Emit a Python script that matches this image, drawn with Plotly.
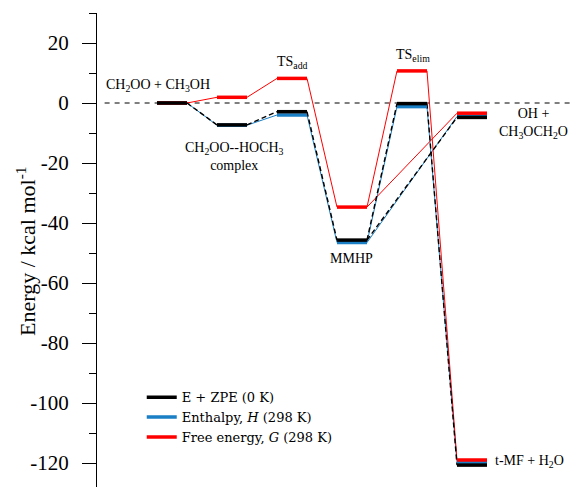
import plotly.graph_objects as go

# Stage data (kcal/mol)
stages = ["CH2OO + CH3OH", "CH2OO--HOCH3 complex", "TSadd", "MMHP", "TSelim", "OH + CH3OCH2O", "t-MF + H2O"]
stage_pos = [0, 1, 2, 3, 4, 5, 5]
E_zpe = [0.0, -7.3, -2.9, -45.7, -0.2, -4.8, -120.7]
H_298 = [0.0, -7.4, -4.0, -46.5, -1.2, -4.5, -119.8]
G_298 = [0.0, 1.9, 8.2, -34.7, 10.7, -3.4, -119.0]
connections = [(0, 1), (1, 2), (2, 3), (3, 4), (4, 6), (3, 5)]

tick_vals = [20, 0, -20, -40, -60, -80, -100, -120]
tick_text = ["20", "0", "-20", "-40", "-60", "-80", "-100", "-120"]

labels = ["CH<sub>2</sub>OO + CH<sub>3</sub>OH", "TS<sub>add</sub>",
          "CH<sub>2</sub>OO--HOCH<sub>3</sub><br>complex", "MMHP",
          "TS<sub>elim</sub>", "OH +<br>CH<sub>3</sub>OCH<sub>2</sub>O", "t-MF + H<sub>2</sub>O"]
label_x = [0.02, 4.5, 2.57, 6.5, 8.53, 12.55, 11.2]
label_y = [5.9, 13.6, -17.7, -51.7, 15.8, -6.8, -119.5]
label_anchor = ["center", "center", "center", "center", "center", "center", "left"]

FONT = "Liberation Serif"
LEGFONT = "DejaVu Serif"
series = [
    ("Enthalpy, <i>H</i> (298 K)", H_298, "#1a7fc4"),
    ("Free energy, <i>G</i> (298 K)", G_298, "#ff0000"),
    ("E + ZPE (0 K)", E_zpe, "#000000"),
]

fig = go.Figure()

# connectors
for name, vals, col in series:
    xs, ys = [], []
    for a, b in connections:
        xs += [2 * stage_pos[a] + 1, 2 * stage_pos[b], None]
        ys += [vals[a], vals[b], None]
    if col == "#000000":
        fig.add_trace(go.Scatter(x=xs, y=ys, mode="lines", showlegend=False,
                                 line=dict(color=col, width=1.4, dash="5px,3px"), hoverinfo="skip"))
    else:
        fig.add_trace(go.Scatter(x=xs, y=ys, mode="lines", showlegend=False,
                                 line=dict(color=col, width=1), hoverinfo="skip"))

legend_order = {"#000000": 1, "#1a7fc4": 2, "#ff0000": 3}
for name, vals, col in series:
    xs, ys = [], []
    for p, v in zip(stage_pos, vals):
        xs += [2 * p, 2 * p + 1, None]
        ys += [v, v, None]
    fig.add_trace(go.Scatter(x=xs, y=ys, mode="lines", name=name,
                             legendrank=legend_order[col],
                             line=dict(color=col, width=3.5)))

for t, x, y, a in zip(labels, label_x, label_y, label_anchor):
    fig.add_annotation(x=x, y=y, text=t, showarrow=False, xanchor=a, yanchor="middle",
                       font=dict(family=FONT, size=14, color="black"))

# y-axis title
fig.add_annotation(xref="paper", yref="paper", x=-0.149, y=0.496, textangle=-90,
                   text="Energy / kcal mol<sup>-1</sup>", showarrow=False,
                   xanchor="center", yanchor="middle",
                   font=dict(family=FONT, size=22, color="black"))

fig.add_shape(type="line", xref="paper", x0=0.016, x1=1, yref="y", y0=0, y1=0,
              line=dict(color="black", width=1.1, dash="5px,5px"), layer="below")

fig.update_layout(
    width=573, height=487,
    margin=dict(l=97, r=0, t=13, b=0, autoexpand=False),
    paper_bgcolor="white", plot_bgcolor="white",
    font=dict(family=FONT, color="black"),
    xaxis=dict(range=[-2, 13.867], visible=False, fixedrange=True),
    yaxis=dict(range=[-128, 30], tickmode="array", tickvals=tick_vals, ticktext=tick_text,
               ticks="outside", ticklen=14,
               tickcolor="black", tickwidth=1, showline=True, linecolor="black", linewidth=1,
               showgrid=False, zeroline=False, ticklabelstandoff=9,
               tickfont=dict(family=FONT, size=21, color="black"),
               minor=dict(dtick=10, tick0=0, ticks="outside", ticklen=7, tickcolor="black", showgrid=False)),
    legend=dict(x=0.094, y=0.221, xanchor="left", yanchor="top", bgcolor="rgba(0,0,0,0)",
                font=dict(family=LEGFONT, size=13, color="black"), tracegroupgap=0,
                itemwidth=30),
    showlegend=True,
)

fig.write_html("out.html", config={"displayModeBar": False},
               post_script="document.body.style.margin='0';")
